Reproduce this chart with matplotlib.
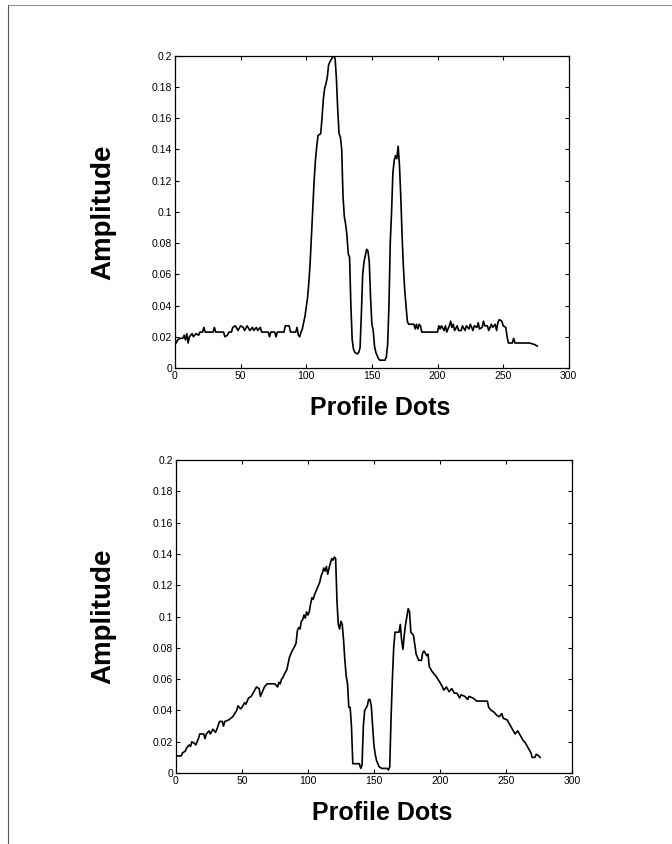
import matplotlib
matplotlib.use("Agg")
import matplotlib.pyplot as plt
from matplotlib.lines import Line2D

# top profile (vertices)
top_x = [0, 1, 2, 4, 6, 7, 8, 9, 10, 11, 13, 14, 16, 18, 19, 21, 22, 23, 29, 30, 31,
         37, 38, 40, 41, 43, 44, 46, 48, 50, 52, 53, 55, 57, 59, 60, 62, 63, 65, 66,
         71, 72, 73, 76, 77, 78, 83, 84, 87, 88, 92, 93, 94, 95, 96, 97, 99, 101,
         102, 103, 104, 105, 106, 107, 108, 109, 111, 112, 113, 114, 115, 116, 117,
         118, 120, 121, 122, 123, 124, 125, 126, 127, 128, 129, 130, 131, 132, 133,
         134, 135, 136, 137, 139, 140, 141, 142, 143, 144, 145, 146, 147, 148, 149,
         150, 151, 152, 153, 155, 156, 160, 161, 162, 163, 164, 165, 166, 167, 168,
         169, 170, 171, 172, 173, 174, 175, 176, 177, 178, 182, 183, 184, 185, 186,
         187, 188, 200, 201, 202, 203, 205, 206, 207, 209, 210, 211, 212, 213, 215,
         216, 218, 219, 221, 222, 224, 225, 227, 228, 230, 231, 232, 234, 235, 236,
         238, 239, 241, 242, 244, 245, 246, 247, 249, 250, 252, 253, 254, 257, 258,
         259, 266, 270, 274, 276]
top_y = [0.018, 0.016, 0.018, 0.019, 0.019, 0.021, 0.018, 0.022, 0.016, 0.020, 0.022,
         0.020, 0.022, 0.021, 0.023, 0.023, 0.026, 0.023, 0.023, 0.026, 0.023,
         0.023, 0.020, 0.021, 0.023, 0.023, 0.026, 0.027, 0.024, 0.027, 0.026,
         0.024, 0.027, 0.024, 0.026, 0.024, 0.026, 0.024, 0.026, 0.023,
         0.023, 0.020, 0.023, 0.023, 0.020, 0.023, 0.023, 0.027, 0.027, 0.023,
         0.023, 0.026, 0.021, 0.020, 0.023, 0.025, 0.033, 0.045,
         0.055, 0.068, 0.085, 0.103, 0.120, 0.133, 0.142, 0.149, 0.150, 0.160,
         0.172, 0.179, 0.182, 0.186, 0.194,
         0.196, 0.199, 0.200, 0.198, 0.185, 0.165, 0.150, 0.148, 0.140, 0.110,
         0.097, 0.092, 0.085, 0.073, 0.071,
         0.040, 0.018, 0.012, 0.010, 0.009, 0.010, 0.013, 0.035, 0.060, 0.068,
         0.072, 0.076, 0.075, 0.068, 0.045,
         0.028, 0.024, 0.014, 0.010, 0.006, 0.005, 0.005, 0.007, 0.015, 0.040,
         0.080, 0.100, 0.125, 0.133, 0.136,
         0.134, 0.142, 0.130, 0.110, 0.085, 0.065, 0.050, 0.040, 0.030, 0.028,
         0.028, 0.025, 0.028, 0.025, 0.028,
         0.027, 0.023, 0.023, 0.027, 0.025, 0.027, 0.024, 0.027, 0.023, 0.027,
         0.030, 0.026, 0.028, 0.024, 0.027,
         0.024, 0.024, 0.027, 0.024, 0.027, 0.025, 0.028, 0.024, 0.027, 0.026,
         0.029, 0.025, 0.026, 0.030, 0.027,
         0.027, 0.024, 0.028, 0.026, 0.028, 0.024, 0.029, 0.031, 0.030, 0.027,
         0.026, 0.020, 0.016, 0.016, 0.019,
         0.016, 0.016, 0.016, 0.015, 0.014]

# bottom profile
bot_x = [0, 4, 5, 7, 8, 10, 11, 12, 14, 15, 17, 18, 21, 22, 23, 25, 26, 28, 30, 31,
         33, 35, 36, 37, 40, 43, 46, 47, 49, 50, 52, 53, 55, 57, 59, 61, 63, 64, 65,
         67, 69, 75, 77, 78, 79, 80, 81, 82, 84, 86, 88, 90, 91, 92, 93, 94, 95, 96,
         97, 98, 99, 100, 101, 102, 103, 104, 105, 107, 109, 110, 111, 112, 113,
         114, 115, 116, 117, 118, 119, 120, 121, 122, 123, 124, 125, 126, 127, 128,
         129, 130, 131, 132, 133, 134, 139, 140, 141, 142, 143, 145, 146, 147, 148,
         149, 150, 151, 152, 154, 156, 160, 161, 162, 163, 164, 165, 166, 169, 170,
         171, 172, 173, 174, 175, 176, 177, 178, 180, 181, 182, 184, 186, 187, 188,
         190, 191, 192, 194, 197, 200, 202, 203, 205, 207, 209, 211, 213, 215, 216,
         219, 221, 222, 225, 228, 236, 237, 239, 241, 243, 245, 247, 248, 251, 253,
         255, 257, 259, 261, 263, 265, 267, 269, 270, 272, 273, 275, 276]
bot_y = [0.011, 0.011, 0.013, 0.014, 0.016, 0.018, 0.017, 0.020, 0.019, 0.018, 0.022,
         0.025, 0.025, 0.022, 0.025, 0.027, 0.025, 0.028, 0.026, 0.028,
         0.033, 0.033, 0.030, 0.033, 0.034, 0.036, 0.040, 0.043, 0.041, 0.042,
         0.045, 0.044, 0.048, 0.049, 0.052, 0.055, 0.054, 0.049, 0.051,
         0.055, 0.057, 0.057, 0.055, 0.058, 0.057, 0.060, 0.061, 0.063, 0.066,
         0.074, 0.078, 0.081, 0.083, 0.091, 0.093, 0.092, 0.097, 0.098,
         0.101, 0.099, 0.103, 0.101, 0.103, 0.108, 0.112, 0.111, 0.114, 0.118,
         0.122, 0.126, 0.128, 0.131, 0.129,
         0.132, 0.127, 0.131, 0.134, 0.137, 0.136, 0.138, 0.137, 0.110, 0.095,
         0.092, 0.097, 0.095, 0.085, 0.072,
         0.062, 0.057, 0.042, 0.042, 0.030, 0.006, 0.006, 0.003, 0.005, 0.030,
         0.040, 0.043, 0.047, 0.047, 0.043,
         0.030, 0.018, 0.012, 0.008, 0.004, 0.003, 0.003, 0.002, 0.004, 0.035,
         0.060, 0.080, 0.090, 0.090, 0.095,
         0.085, 0.079, 0.088, 0.095, 0.100, 0.105, 0.103, 0.090, 0.088, 0.082,
         0.076, 0.072, 0.072, 0.077, 0.078,
         0.075, 0.076, 0.068, 0.065, 0.062, 0.058, 0.055, 0.053, 0.055, 0.052,
         0.054, 0.051, 0.051, 0.048, 0.050,
         0.049, 0.047, 0.049, 0.048, 0.046, 0.046, 0.042, 0.040, 0.039, 0.037,
         0.036, 0.038, 0.035, 0.034, 0.031,
         0.028, 0.025, 0.027, 0.024, 0.021, 0.019, 0.016, 0.013, 0.010, 0.010,
         0.012, 0.011, 0.010]

x_ticks = [0, 50, 100, 150, 200, 250, 300]
y_ticks = [0, 0.02, 0.04, 0.06, 0.08, 0.1, 0.12, 0.14, 0.16, 0.18, 0.2]
y_labels = ["0", "0.02", "0.04", "0.06", "0.08", "0.1", "0.12", "0.14", "0.16", "0.18", "0.2"]

plt.rcParams['font.family'] = ['Liberation Sans', 'DejaVu Sans']

fig = plt.figure(figsize=(6.72, 8.44), dpi=100)


def panel(rect, xs, ys):
    ax = fig.add_axes(rect)
    ax.plot(xs, ys, color='black', linewidth=1.2)
    ax.set_xlim(0, 300)
    ax.set_ylim(0, 0.2)
    ax.set_xticks(x_ticks)
    ax.set_xticklabels([str(t) for t in x_ticks])
    ax.set_yticks(y_ticks)
    ax.set_yticklabels(y_labels)
    ax.tick_params(direction='in', length=3, width=0.8, labelsize=7.5,
                   top=True, right=True, pad=2)
    for s in ax.spines.values():
        s.set_linewidth(0.9)
    ax.set_ylabel("Amplitude", fontsize=20, fontweight='bold')
    ax.set_xlabel("Profile Dots", fontsize=18, fontweight='bold')
    ax.yaxis.set_label_coords(-0.15, 0.5)
    ax.xaxis.set_label_coords(0.52, -0.09)
    return ax


panel([0.2604, 0.564, 0.586, 0.370], top_x, top_y)
panel([0.2619, 0.084, 0.589, 0.371], bot_x, bot_y)

# scan frame edges
fig.add_artist(Line2D([0.012, 0.012], [0.0, 0.994], transform=fig.transFigure,
                      color='#555555', linewidth=0.8))
fig.add_artist(Line2D([0.012, 1.0], [0.994, 0.994], transform=fig.transFigure,
                      color='#777777', linewidth=0.6))

fig.savefig("out.png", dpi=100)
